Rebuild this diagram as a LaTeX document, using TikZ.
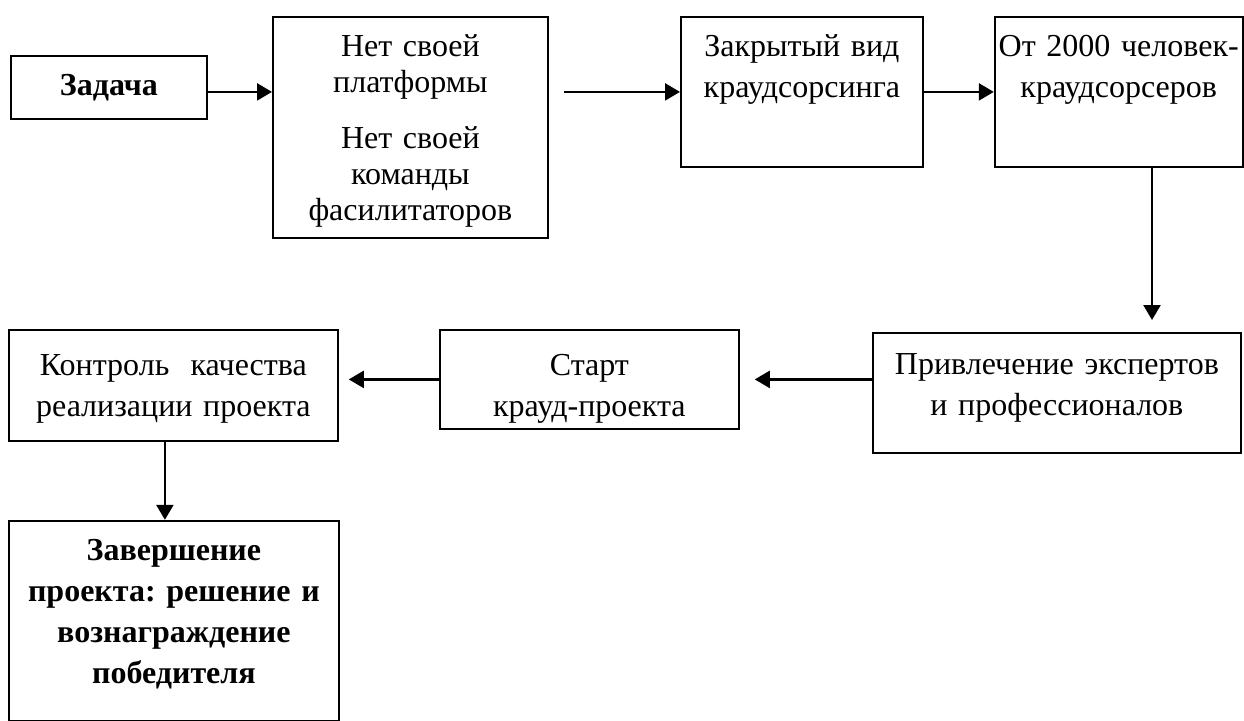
\documentclass[tikz,border=0pt]{standalone}
\usepackage{fontspec}
\setmainfont{Liberation Serif}
\frenchspacing
\usetikzlibrary{arrows.meta,positioning}
\tikzset{
  block/.style={draw, line width=0.9pt, inner sep=0pt, anchor=north west,
    execute at begin node=\centering, text height=20pt, font=\fontsize{16pt}{20.5pt}\selectfont},
  boldblock/.style={block, font=\fontsize{16pt}{20.5pt}\selectfont\bfseries},
  link/.style={-{Triangle[length=7.5pt,width=8.5pt]}, line width=1.2pt}
}
\begin{document}
\begin{tikzpicture}[x=0.5pt,y=-0.5pt]
\useasboundingbox (0,0) rectangle (1244,720);
\node[boldblock, text width=98pt, text depth=11.5pt] (task) at (10,55) {Задача};
\node[block, text width=137.5pt, text depth=90.5pt, font=\fontsize{16pt}{18pt}\selectfont] (platform) at (272,16)
  {Нет своей\\платформы\\[10pt]Нет своей\\команды\\фасилитаторов};
\node[block, text width=121pt, text depth=55pt] (closed) at (680,16) {Закрытый вид\\краудсорсинга};
\node[block, right=35pt of closed.north east, anchor=north west, text width=124pt, text depth=55pt] (crowd)
  {От 2000 человек-\\краудсорсеров};
\node[block, text width=184pt, text height=21pt, text depth=39pt] (experts) at (872,332)
  {Привлечение экспертов\\и профессионалов};
\node[block, text width=149.5pt, text height=23pt, text depth=26.5pt] (start) at (439,329) {Старт\\крауд-проекта};
\node[block, text width=164.5pt, text height=23pt, text depth=32.5pt] (control) at (8,329)
  {Контроль\ \ качества\\реализации проекта};
\node[boldblock, below=39pt of control.south west, anchor=north west, text width=165pt, text depth=80pt] (finish)
  {Завершение\\проекта: решение и\\вознаграждение\\победителя};
\coordinate (drop) at (1152,320);

\draw[link] (task.east |- closed.west) -- (platform.west |- closed.west);
\draw[link] ([xshift=7.5pt]platform.east |- closed.west) -- (closed.west);
\draw[link] (closed.east) -- (crowd.west);
\draw[link] (crowd.south -| drop) -- (drop);
\draw[link] (experts.west |- start.east) -- ([xshift=7.5pt]start.east);
\draw[link] (start.west) -- ([xshift=5pt]start.west -| control.east);
\draw[link] ([xshift=-4.25pt]control.south) -- ([xshift=-4.25pt]control.south |- finish.north);
\end{tikzpicture}
\end{document}
